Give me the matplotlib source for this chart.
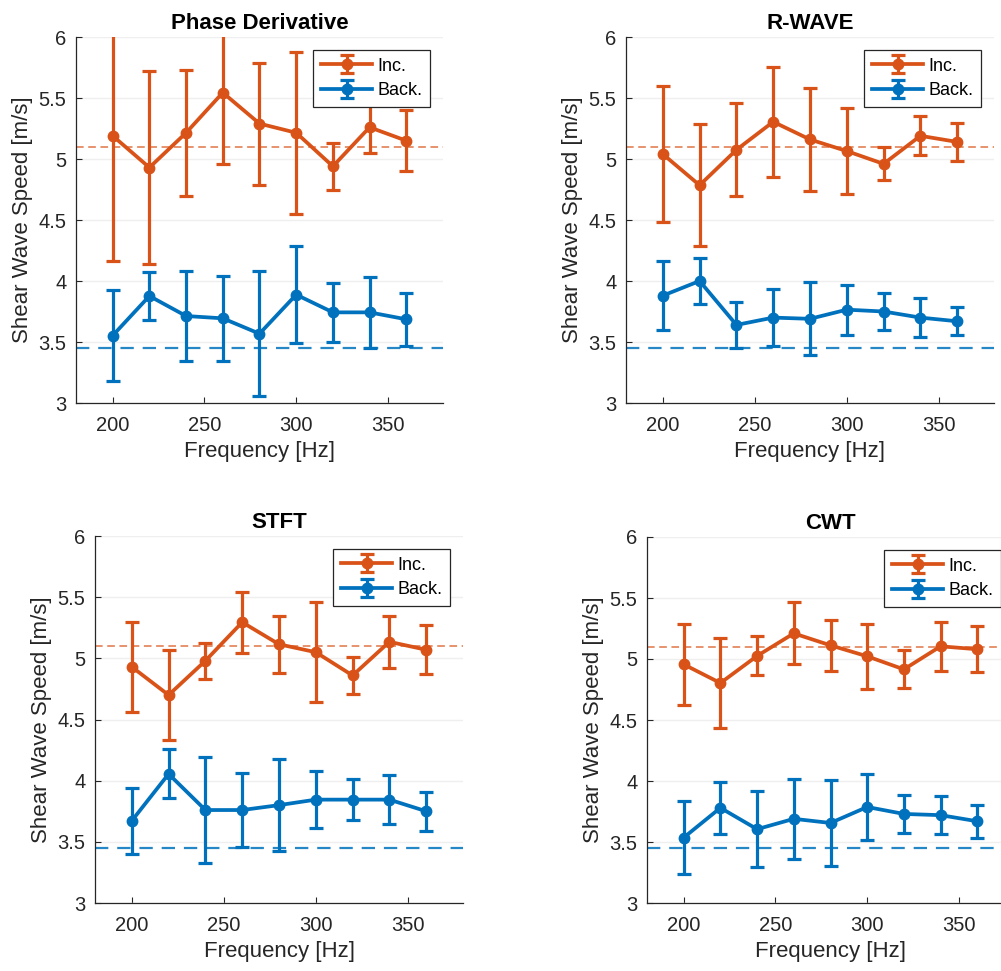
import matplotlib.pyplot as plt
import numpy as np

plt.rcParams['font.family'] = ['Liberation Sans', 'DejaVu Sans']

freq = [200, 220, 240, 260, 280, 300, 320, 340, 360]

titles = ['Phase Derivative', 'R-WAVE', 'STFT', 'CWT']

# Inc. (inclusion) and Back. (background) means and std
pd_inc = [5.19, 4.93, 5.215, 5.544, 5.29, 5.215, 4.94, 5.26, 5.15]
pd_inc_err = [1.03, 0.79, 0.515, 0.585, 0.50, 0.665, 0.19, 0.21, 0.25]
pd_back = [3.553, 3.877, 3.713, 3.694, 3.568, 3.888, 3.743, 3.743, 3.686]
pd_back_err = [0.37, 0.2, 0.367, 0.348, 0.514, 0.396, 0.239, 0.289, 0.215]

rw_inc = [5.04, 4.785, 5.075, 5.305, 5.16, 5.065, 4.96, 5.19, 5.14]
rw_inc_err = [0.56, 0.50, 0.38, 0.45, 0.42, 0.355, 0.135, 0.16, 0.155]
rw_back = [3.88, 4.00, 3.64, 3.70, 3.69, 3.765, 3.75, 3.70, 3.67]
rw_back_err = [0.28, 0.185, 0.19, 0.235, 0.30, 0.205, 0.148, 0.158, 0.116]

st_inc = [4.93, 4.70, 4.98, 5.295, 5.115, 5.05, 4.86, 5.135, 5.07]
st_inc_err = [0.37, 0.365, 0.145, 0.25, 0.235, 0.41, 0.15, 0.21, 0.2]
st_back = [3.672, 4.055, 3.76, 3.76, 3.80, 3.845, 3.845, 3.845, 3.75]
st_back_err = [0.27, 0.2, 0.435, 0.305, 0.375, 0.23, 0.17, 0.2, 0.16]

cw_inc = [4.956, 4.803, 5.025, 5.21, 5.112, 5.022, 4.915, 5.104, 5.08]
cw_inc_err = [0.33, 0.37, 0.16, 0.255, 0.21, 0.265, 0.155, 0.2, 0.19]
cw_back = [3.536, 3.78, 3.605, 3.69, 3.656, 3.787, 3.73, 3.72, 3.67]
cw_back_err = [0.3, 0.215, 0.31, 0.33, 0.355, 0.267, 0.157, 0.157, 0.137]

ref_inc = 5.1
ref_back = 3.45

inc = [pd_inc, rw_inc, st_inc, cw_inc]
inc_err = [pd_inc_err, rw_inc_err, st_inc_err, cw_inc_err]
back = [pd_back, rw_back, st_back, cw_back]
back_err = [pd_back_err, rw_back_err, st_back_err, cw_back_err]

orange = '#D95319'
blue = '#0072BD'
txt = '#262626'

W, H = 1001, 971
# axes boxes in pixels: left, top, right, bottom
boxes = [(76, 37, 443, 403), (626, 37, 994, 403),
         (95, 536, 463, 903), (647, 537, 1014, 903)]

fig = plt.figure(figsize=(W / 100, H / 100), dpi=100)

for i in range(4):
    l, t, r, b = boxes[i]
    ax = fig.add_axes([l / W, (H - b) / H, (r - l) / W, (b - t) / H])

    ax.set_axisbelow(True)
    ax.grid(axis='y', color='#efefef', lw=1)

    ax.axhline(ref_inc, color=orange, lw=1.1, ls=(0, (5, 3)), alpha=0.8, zorder=1)
    ax.axhline(ref_back, color=blue, lw=1.6, ls=(0, (6, 4)), alpha=0.85, zorder=1)

    ax.errorbar(freq, inc[i], yerr=inc_err[i], color=orange, lw=2.7, marker='o',
                ms=7.5, capsize=5, capthick=2.3, elinewidth=2.3, label='Inc.', zorder=3)
    ax.errorbar(freq, back[i], yerr=back_err[i], color=blue, lw=2.7, marker='o',
                ms=7.5, capsize=5, capthick=2.3, elinewidth=2.3, label='Back.', zorder=3)

    ax.set_xlim(180, 380)
    ax.set_ylim(3, 6)
    ax.set_xticks([200, 250, 300, 350])
    ax.set_yticks([3, 3.5, 4, 4.5, 5, 5.5, 6])
    ax.set_yticklabels(['3', '3.5', '4', '4.5', '5', '5.5', '6'])
    ax.tick_params(direction='in', length=4, labelsize=14.5, colors=txt, width=0.8)
    ax.tick_params(axis='x', pad=9)
    ax.tick_params(axis='y', pad=7)
    for s in ['top', 'right']:
        ax.spines[s].set_visible(False)
    for s in ['left', 'bottom']:
        ax.spines[s].set_color(txt)
        ax.spines[s].set_linewidth(0.9)

    ax.set_xlabel('Frequency [Hz]', fontsize=16, color=txt, labelpad=5)
    ax.set_ylabel('Shear Wave Speed [m/s]', fontsize=16, color=txt, labelpad=4)
    ax.set_title(titles[i], fontsize=16, fontweight='bold', color='black', pad=6)

    leg = ax.legend(loc='upper right', fontsize=13, handlelength=2.8,
                    handletextpad=0.3, labelspacing=0.4, borderpad=0.45,
                    borderaxespad=0.7, fancybox=False, framealpha=1)
    leg.get_frame().set_edgecolor(txt)
    leg.get_frame().set_linewidth(0.9)

fig.savefig('out.png', dpi=100)
